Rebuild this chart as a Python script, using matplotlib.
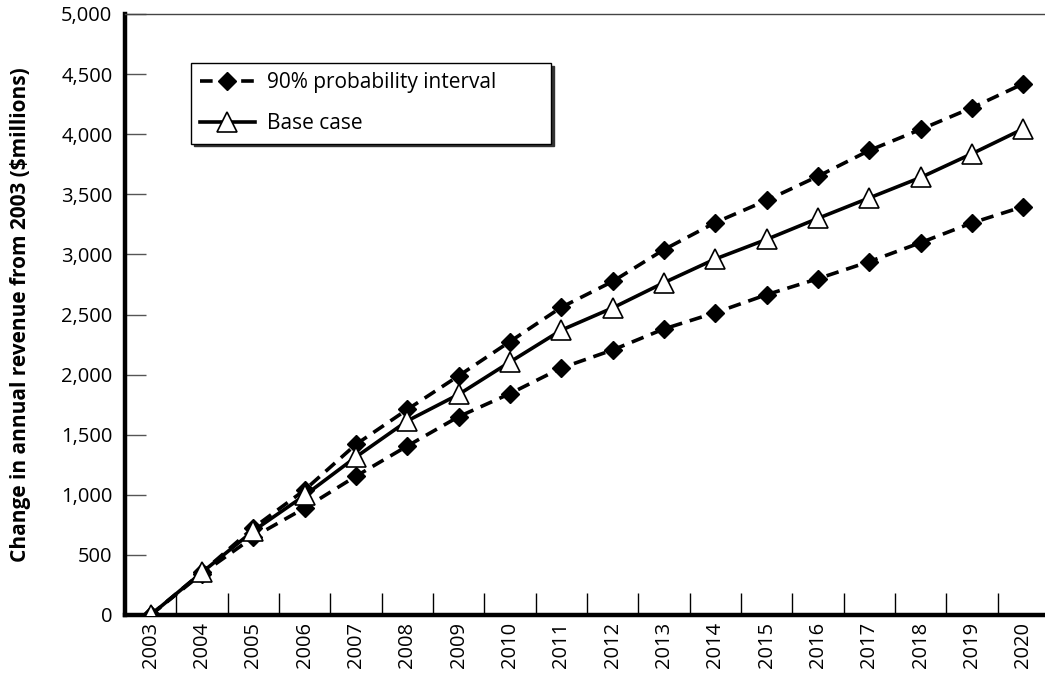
import numpy as np
import matplotlib
matplotlib.use("Agg")
import matplotlib.pyplot as plt
from matplotlib.ticker import FuncFormatter, FixedLocator

plt.rcParams["font.family"] = ["Open Sans", "DejaVu Sans"]

YEARS = [str(y) for y in range(2003, 2021)]
UPPER = [0, 355, 725, 1040, 1420, 1710, 1990, 2275, 2560, 2775,
         3040, 3265, 3450, 3650, 3865, 4040, 4220, 4420]
BASE = [0, 355, 700, 995, 1315, 1615, 1835, 2105, 2370, 2555,
        2765, 2962, 3125, 3300, 3470, 3640, 3838, 4045]
LOWER = [0, 345, 648, 890, 1155, 1406, 1650, 1842, 2055, 2205,
         2380, 2515, 2665, 2798, 2940, 3098, 3262, 3398]

W, H = 1045, 674
fig = plt.figure(figsize=(W / 100, H / 100), dpi=100)
ax = fig.add_axes([125 / W, (H - 615) / H, (1049 - 125) / W, (615 - 14) / H])

x = np.arange(len(YEARS))
dash = dict(color="black", lw=2.6, ls=(0, (3.5, 2.2)), marker="D", ms=9,
            mfc="black", mec="black")
ax.plot(x, UPPER, label="90% probability interval", zorder=3, **dash)
ax.plot(x, LOWER, zorder=3, **dash)
ax.plot(x, BASE, color="black", lw=2.6, marker="^", ms=15, mfc="white",
        mec="black", mew=1.2, label="Base case", zorder=4)

ax.set_xlim(-0.5, 17.5)
ax.set_ylim(0, 5000)
ax.set_yticks(np.arange(0, 5001, 500))
ax.yaxis.set_major_formatter(FuncFormatter(lambda v, p: f"{int(v):,}"))
ax.tick_params(axis="y", direction="in", length=15, width=1, color="#555555",
               labelsize=14.5, pad=9)

ax.set_xticks(x)
ax.set_xticklabels(YEARS, rotation=90, fontsize=14.5)
ax.tick_params(axis="x", which="major", length=0, pad=5)
ax.xaxis.set_minor_locator(FixedLocator(x[:-1] + 0.5))
ax.tick_params(axis="x", which="minor", direction="in", length=16, width=1,
               color="black")

ax.set_ylabel("Change in annual revenue from 2003 ($millions)",
              fontsize=15, fontweight="bold", labelpad=22)

for s in ("left", "bottom"):
    ax.spines[s].set_linewidth(3.2)
ax.spines["top"].set_linewidth(1.0)
ax.spines["top"].set_color("#444444")
ax.spines["right"].set_visible(False)

# legend box stretched to the width it has in the original
leg = ax.legend(loc="upper left", bbox_to_anchor=(0.0714, 0.777, 0.39, 0.1415),
                mode="expand", fontsize=15, frameon=True, fancybox=False,
                shadow={"color": "#333333", "alpha": 1}, edgecolor="black",
                borderpad=0.45, handlelength=2.6, handletextpad=0.6,
                labelspacing=0.95, borderaxespad=0)
leg.get_frame().set_linewidth(1.0)

fig.savefig("out.png", dpi=100)
